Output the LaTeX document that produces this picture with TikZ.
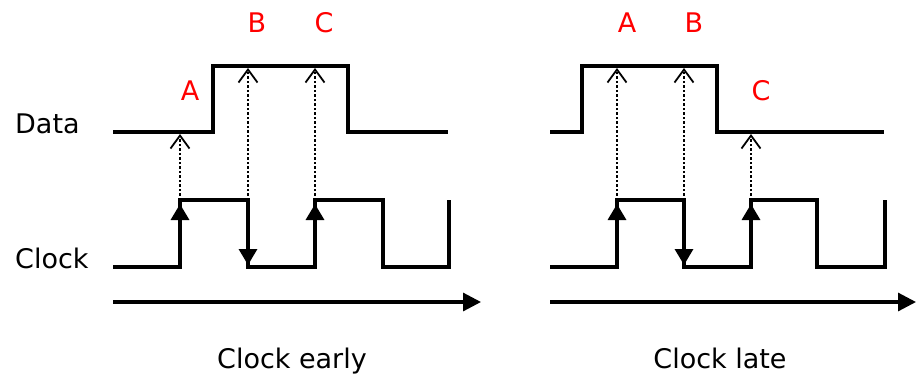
\documentclass[tikz,border=0pt]{standalone}
\usepackage{fontspec}
\setmainfont{DejaVu Sans}
\usetikzlibrary{arrows.meta}
\tikzset{
  % signal traces
  wave/.style={line width=3.2pt, line join=miter},
  % direction marks on the clock edges
  edgearr/.style={-{Triangle[length=16pt, width=18pt]}, line width=3.2pt},
  % sampling arrows, clock edge up to data
  sample/.style={-{Straight Barb[length=13pt, width=19pt, line width=1.8pt]},
    line width=1.7pt, dash pattern=on 2.5pt off 2pt},
  % time axis
  timeaxis/.style={-{Triangle[length=18pt, width=18pt]}, line width=3.2pt},
  lbl/.style={font=\fontsize{27}{32}\selectfont, inner sep=0pt},
  tag/.style={lbl, text=red, anchor=base},
}

\begin{document}
\begin{tikzpicture}[x=1pt, y=-1pt]
  \useasboundingbox (0,0) rectangle (916,373);

  % signal names
  \node[lbl, anchor=base west] (dataLbl)  at (15,133) {Data};
  \node[lbl, anchor=base west] (clockLbl) at (15,268) {Clock};

  % ---- clock early ----
  \draw[wave] (113,132) -- (213,132) -- (213,66) -- (348,66) -- (348,132) -- (448,132);
  \draw[wave] (113,267) -- (180,267) -- (180,200) -- (248,200) -- (248,267)
    -- (315,267) -- (315,200) -- (383,200) -- (383,267) -- (449,267) -- (449,200);
  \coordinate (eA) at (180,200); \coordinate (dA) at (180,134);
  \coordinate (eB) at (248,200); \coordinate (dB) at (248,68);
  \coordinate (eC) at (315,200); \coordinate (dC) at (315,68);
  \draw[edgearr] (180,240) -- (180,204);
  \draw[edgearr] (248,230) -- (248,265);
  \draw[edgearr] (315,240) -- (315,204);
  \draw[sample] (eA) -- (dA);
  \draw[sample] (eB) -- (dB);
  \draw[sample] (eC) -- (dC);
  \node[tag] (earlyA) at (190,100) {A};
  \node[tag] (earlyB) at (257,32)  {B};
  \node[tag] (earlyC) at (324,32)  {C};
  \coordinate (t0) at (113,302); \coordinate (t1) at (481,302);
  \draw[timeaxis] (t0) -- (t1);
  \node[lbl, anchor=base] (early) at (292,368) {Clock early};

  % ---- clock late ----
  \draw[wave] (550,132) -- (582,132) -- (582,66) -- (717,66) -- (717,132) -- (884,132);
  \draw[wave] (550,267) -- (617,267) -- (617,200) -- (684,200) -- (684,267)
    -- (751,267) -- (751,200) -- (817,200) -- (817,267) -- (885,267) -- (885,200);
  \coordinate (lA) at (617,200); \coordinate (mA) at (617,68);
  \coordinate (lB) at (684,200); \coordinate (mB) at (684,68);
  \coordinate (lC) at (751,200); \coordinate (mC) at (751,134);
  \draw[edgearr] (617,240) -- (617,204);
  \draw[edgearr] (684,230) -- (684,265);
  \draw[edgearr] (751,240) -- (751,204);
  \draw[sample] (lA) -- (mA);
  \draw[sample] (lB) -- (mB);
  \draw[sample] (lC) -- (mC);
  \node[tag] (lateA) at (627,32)  {A};
  \node[tag] (lateB) at (694,32)  {B};
  \node[tag] (lateC) at (761,100) {C};
  \coordinate (u0) at (550,302); \coordinate (u1) at (916,302);
  \draw[timeaxis] (u0) -- (u1);
  \node[lbl, anchor=base] (late) at (720,368) {Clock late};
\end{tikzpicture}
\end{document}
